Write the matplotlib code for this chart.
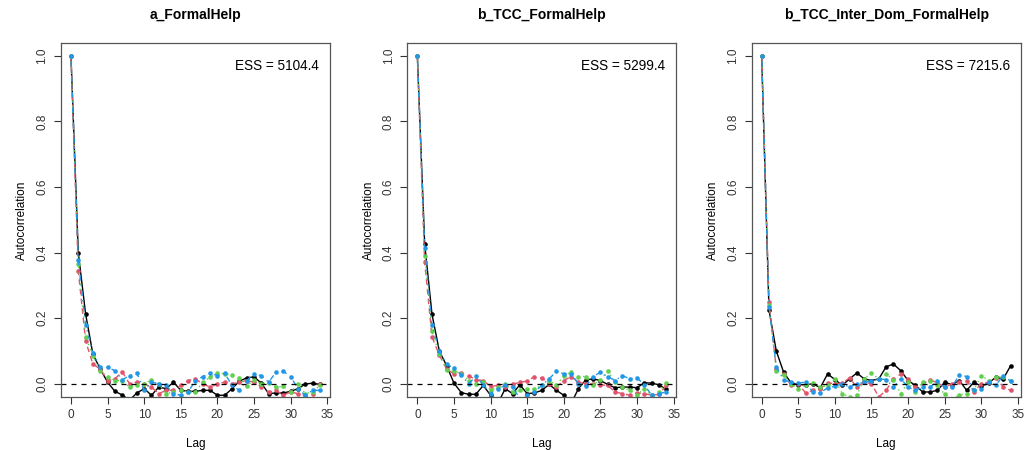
import numpy as np
import matplotlib.pyplot as plt

plt.rcParams['font.family'] = ['Liberation Sans', 'DejaVu Sans']

lags = np.arange(35)

titles = ["a_FormalHelp", "b_TCC_FormalHelp", "b_TCC_Inter_Dom_FormalHelp"]
ess = [5104.4, 5299.4, 7215.6]

# autocorrelation per chain, lags 0..34
a_chain1 = [1.0, 0.40, 0.213, 0.09, 0.045, 0.005, -0.023, -0.034, -0.05, -0.028, -0.015, -0.035, -0.01, -0.015, 0.005,
            -0.02, -0.023, -0.023, -0.02, -0.02, -0.035, -0.035, -0.015, 0.008, 0.018, 0.021, 0.002, -0.03, -0.028,
            -0.028, -0.023, -0.015, -0.001, 0.002, -0.002]
a_chain2 = [1.0, 0.345, 0.13, 0.06, 0.045, 0.01, 0.015, 0.037, 0.0, 0.005, 0.0, -0.01, -0.03, -0.02, -0.02,
            -0.005, 0.01, 0.015, 0.0, -0.01, 0.0, 0.005, 0.0, 0.005, 0.01, 0.005, -0.01, -0.025, -0.02,
            -0.035, -0.025, -0.03, -0.035, -0.03, 0.0]
a_chain3 = [1.0, 0.365, 0.143, 0.085, 0.04, 0.022, 0.01, 0.01, -0.01, -0.005, 0.0, 0.013, -0.002, -0.03, -0.025,
            -0.02, -0.025, -0.025, 0.005, 0.02, 0.033, 0.03, 0.028, 0.018, -0.008, 0.012, 0.0, 0.002, -0.01,
            -0.008, -0.025, 0.0, -0.03, -0.025, -0.005]
a_chain4 = [1.0, 0.378, 0.18, 0.095, 0.05, 0.05, 0.04, 0.012, 0.025, 0.033, -0.02, 0.005, 0.0, -0.005, -0.03,
            -0.035, -0.025, 0.01, 0.022, 0.033, 0.025, 0.032, -0.005, -0.02, 0.01, 0.03, 0.025, 0.005, 0.035,
            0.038, 0.022, -0.015, -0.035, -0.02, -0.02]

b_chain1 = [1.0, 0.427, 0.212, 0.10, 0.055, 0.002, -0.027, -0.032, -0.032, -0.005, -0.035, -0.06, -0.015, -0.03,
            -0.003, -0.03, -0.028, -0.02, -0.002, -0.02, -0.035, -0.06, -0.015, 0.012, 0.015, 0.01, -0.002, -0.012,
            -0.01, -0.01, -0.012, 0.003, 0.002, -0.003, -0.017]
b_chain2 = [1.0, 0.37, 0.143, 0.087, 0.045, 0.03, 0.033, 0.025, 0.012, 0.01, -0.008, -0.005, -0.01, -0.002, 0.005,
            0.008, 0.022, 0.018, 0.0, -0.01, 0.01, 0.022, 0.005, 0.0, 0.0, -0.003, -0.005, -0.025, -0.03,
            -0.035, -0.028, -0.03, -0.035, -0.032, -0.005]
b_chain3 = [1.0, 0.39, 0.16, 0.09, 0.043, 0.04, 0.03, 0.01, -0.002, 0.005, -0.02, -0.01, 0.0, -0.025, -0.02,
            -0.015, -0.015, -0.005, 0.01, -0.005, 0.025, 0.035, 0.022, 0.022, -0.003, 0.012, 0.04, 0.005, -0.01,
            -0.02, -0.035, -0.015, -0.035, -0.025, 0.003]
b_chain4 = [1.0, 0.415, 0.18, 0.10, 0.06, 0.047, 0.028, 0.0, 0.023, -0.003, -0.03, -0.015, -0.005, -0.01, -0.045,
            -0.035, -0.025, -0.005, 0.015, 0.038, 0.03, 0.03, 0.0, -0.008, 0.022, 0.035, 0.022, 0.01, 0.025,
            0.015, 0.018, -0.003, -0.035, -0.03, -0.025]

c_chain1 = [1.0, 0.225, 0.10, 0.035, 0.003, -0.003, -0.003, 0.0, -0.012, 0.03, 0.013, -0.005, 0.015, 0.033, 0.015,
            0.01, 0.015, 0.052, 0.06, 0.04, 0.01, -0.005, -0.025, -0.025, -0.02, 0.005, -0.003, 0.01, -0.02,
            0.005, -0.008, 0.003, 0.02, 0.015, 0.055]
c_chain2 = [1.0, 0.248, 0.045, 0.03, -0.005, 0.0, -0.028, -0.02, -0.015, 0.003, 0.0, 0.002, 0.018, -0.01, 0.005,
            0.0, -0.04, -0.02, 0.015, 0.03, 0.015, -0.01, 0.0, 0.012, 0.003, -0.01, 0.0, 0.005, 0.01,
            -0.025, 0.0, 0.005, 0.018, -0.01, -0.02]
c_chain3 = [1.0, 0.24, 0.038, 0.028, 0.0, -0.015, -0.003, 0.002, -0.01, -0.005, 0.015, -0.03, -0.04, -0.035, 0.015,
            0.032, 0.015, 0.03, 0.012, -0.03, 0.005, -0.025, 0.005, 0.008, -0.005, -0.032, -0.045, -0.035, -0.03,
            -0.018, 0.025, 0.01, 0.022, 0.02, 0.008]
c_chain4 = [1.0, 0.235, 0.052, 0.012, 0.005, 0.002, 0.005, -0.025, -0.028, -0.012, -0.008, 0.0, -0.01, 0.0, 0.005,
            0.008, 0.015, 0.013, -0.01, 0.015, -0.01, -0.02, -0.01, -0.01, 0.008, -0.01, -0.01, 0.028, 0.022,
            -0.02, -0.015, 0.005, -0.003, 0.025, 0.008]

panels = [
    [a_chain1, a_chain2, a_chain3, a_chain4],
    [b_chain1, b_chain2, b_chain3, b_chain4],
    [c_chain1, c_chain2, c_chain3, c_chain4],
]

# R default palette and lty 1..4
colors = ["black", "#DF536B", "#61D04F", "#2297E6"]
styles = ["-", (0, (4, 3)), (0, (1, 3)), (0, (1, 3, 4, 3))]

fig = plt.figure(figsize=(10.34, 4.5), dpi=100)
lefts = [0.059, 0.394, 0.727]

for k, chains in enumerate(panels):
    ax = fig.add_axes([lefts[k], 0.118, 0.260, 0.787])
    for j, acf in enumerate(chains):
        ax.plot(lags, acf, color=colors[j], linestyle=styles[j], linewidth=1.0,
                marker='o', markersize=3.3, markeredgewidth=0)
    ax.axhline(0, color='black', linestyle=(0, (4, 4)), linewidth=0.9)
    ax.set_xlim(-1.36, 35.36)
    ax.set_ylim(-0.04, 1.04)
    ax.set_xticks(np.arange(0, 36, 5))
    ax.set_yticks(np.arange(0, 1.01, 0.2))
    ax.set_yticklabels([f"{v:.1f}" for v in np.arange(0, 1.01, 0.2)], rotation=90, va='center')
    ax.tick_params(direction='out', length=5, width=0.8, labelsize=8.5, colors='#333333', pad=4)
    for s in ax.spines.values():
        s.set_color('#555555')
        s.set_linewidth(0.9)
    ax.set_title(titles[k], fontsize=10, fontweight='bold', pad=17)
    ax.set_xlabel("Lag", fontsize=8.5, labelpad=12)
    ax.set_ylabel("Autocorrelation", fontsize=8.5, labelpad=6)
    ax.text(0.96, 0.955, f"ESS = {ess[k]}", transform=ax.transAxes, ha='right', va='top', fontsize=9.8)

fig.savefig("out.png", dpi=100)
